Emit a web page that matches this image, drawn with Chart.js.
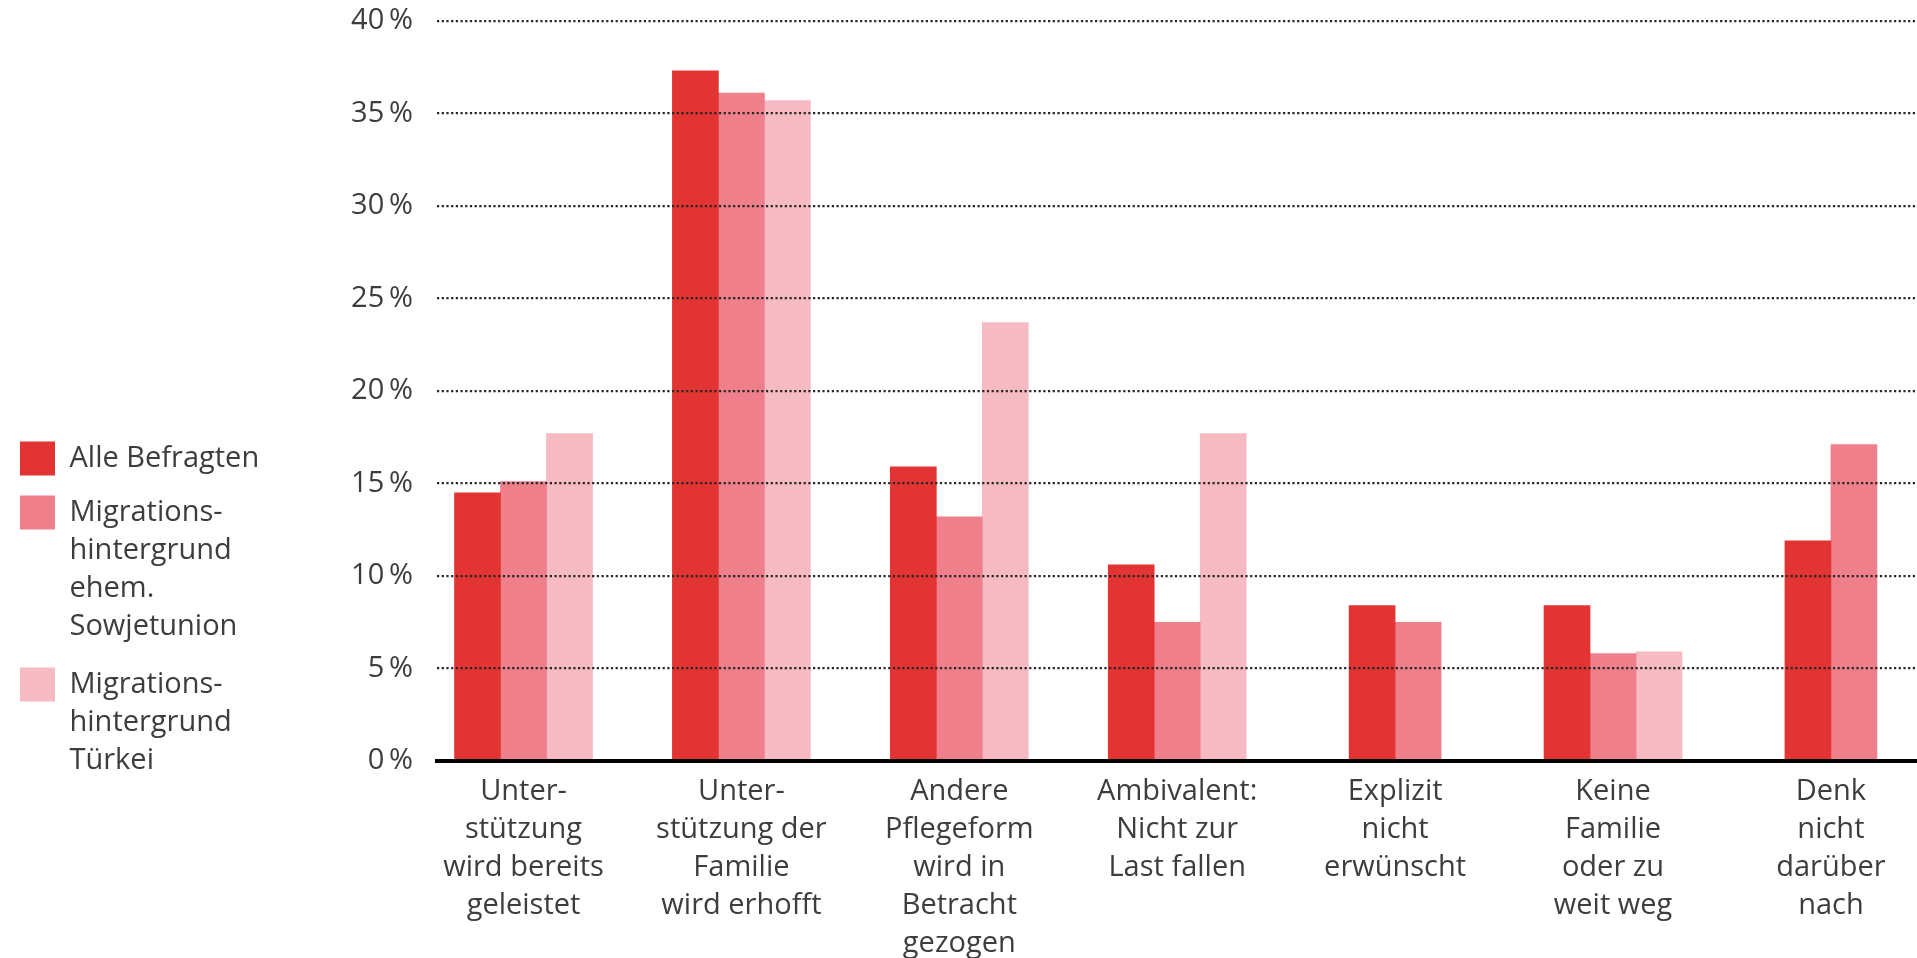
<!DOCTYPE html>
<html>
<head>
<meta charset="utf-8">
<script src="https://cdn.jsdelivr.net/npm/chart.js@4.4.1/dist/chart.umd.min.js"></script>
<style>
  html, body { margin: 0; padding: 0; background: #ffffff; }
  #wrap { width: 1917px; height: 958px; position: relative; }
</style>
</head>
<body>
<div id="wrap"><canvas id="chart"></canvas></div>
<script>
// ---- data ----
const categories = [
  ['Unter-', 'stützung', 'wird bereits', 'geleistet'],
  ['Unter-', 'stützung der', 'Familie', 'wird erhofft'],
  ['Andere', 'Pflegeform', 'wird in', 'Betracht', 'gezogen'],
  ['Ambivalent:', 'Nicht zur', 'Last fallen'],
  ['Explizit', 'nicht', 'erwünscht'],
  ['Keine', 'Familie', 'oder zu', 'weit weg'],
  ['Denk', 'nicht', 'darüber', 'nach']
];
const seriesNames = [
  'Alle Befragten',
  ['Migrations-', 'hintergrund', 'ehem.', 'Sowjetunion'],
  ['Migrations-', 'hintergrund', 'Türkei']
];
const alleBefragten = [14.5, 37.3, 15.9, 10.6, 8.4, 8.4, 11.9];
const sowjetunion   = [15.1, 36.1, 13.2, 7.5, 7.5, 5.8, 17.1];
const tuerkei       = [17.7, 35.7, 23.7, 17.7, null, 5.9, null];
const yTickValues   = [0, 5, 10, 15, 20, 25, 30, 35, 40];
const yTickSuffix   = '\u2009%';

// ---- styles ----
const colors = ['#e23432', '#ef808b', '#f5bac2'];
const textColor = '#3d3d3d';
const FONT = '"Open Sans", "Noto Sans", sans-serif';

const toPoints = arr => arr.map((v, i) => ({ x: i, y: v }));
const seriesValues = [alleBefragten, sowjetunion, tuerkei];

function draw() {
  const ctx = document.getElementById('chart').getContext('2d');
  new Chart(ctx, {
    type: 'bar',
    data: {
      datasets: seriesValues.map((vals, k) => ({
        label: seriesNames[k],
        data: toPoints(vals),
        backgroundColor: colors[k],
        borderWidth: 0,
        barThickness: 46,
        skipNull: true
      }))
    },
    options: {
      responsive: true,
      maintainAspectRatio: false,
      animation: false,
      events: [],
      layout: { padding: { top: 21, bottom: 0, left: 0, right: 0 } },
      plugins: {
        tooltip: { enabled: false },
        legend: {
          position: 'left',
          align: 'start',
          title: { display: true, text: '', padding: { top: 0, bottom: 386 } },
          labels: {
            boxWidth: 35,
            boxHeight: 34,
            padding: 20,
            color: textColor,
            font: { family: FONT, size: 29, lineHeight: '38px' }
          }
        }
      },
      scales: {
        x: {
          type: 'linear',
          offset: false,
          min: -0.397,
          max: 6.395,
          afterFit: s => { s.height = 197; },
          grid: { display: true, offset: false, color: 'rgba(0,0,0,0)', drawTicks: false },
          border: { display: true, color: '#000000', width: 4, z: 2 },
          ticks: {
            stepSize: 1,
            includeBounds: false,
            autoSkip: false,
            maxRotation: 0,
            padding: 12,
            color: textColor,
            font: { family: FONT, size: 29, lineHeight: '38px' },
            callback: v => (Number.isInteger(v) && categories[v]) ? categories[v] : ''
          }
        },
        y: {
          min: 0,
          max: 40,
          afterBuildTicks: s => { s.ticks = yTickValues.map(v => ({ value: v })); },
          afterFit: s => {
            const lg = s.chart.legend;
            s.width = 437 - (lg ? lg.width : 0);
          },
          grid: { color: '#262626', lineWidth: 2.2, drawTicks: true, tickLength: 24, tickColor: 'rgba(0,0,0,0)', z: 1 },
          border: { display: false, dash: [2.2, 2.5] },
          ticks: {
            padding: 0,
            color: textColor,
            font: { family: FONT, size: 29, lineHeight: 1.2 },
            callback: v => v + yTickSuffix
          }
        }
      }
    }
  });
}

if (document.fonts && document.fonts.load) {
  document.fonts.load('29px "Open Sans"').then(draw, draw);
} else {
  draw();
}
</script>
</body>
</html>
